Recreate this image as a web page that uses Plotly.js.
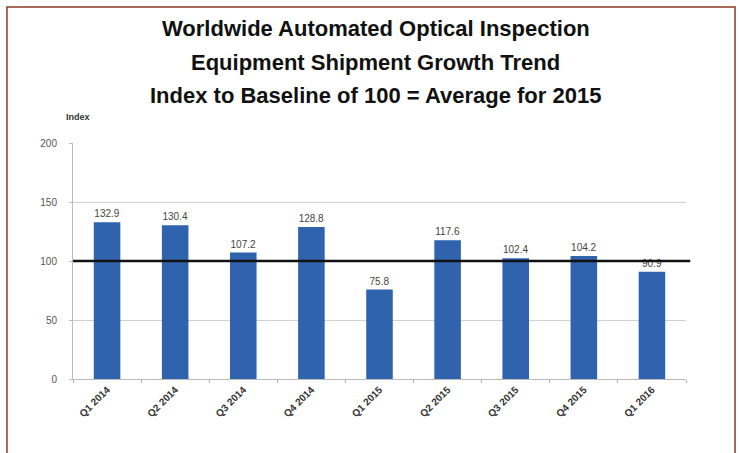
<!DOCTYPE html>
<html>
<head>
<meta charset="utf-8">
<script src="https://cdn.plot.ly/plotly-3.0.1.min.js"></script>
<style>html,body{margin:0;padding:0;background:#fff}#chart{width:740px;height:453px}</style>
</head>
<body>
<div id="chart"></div>
<script>
const quarters = ["Q1 2014","Q2 2014","Q3 2014","Q4 2014","Q1 2015","Q2 2015","Q3 2015","Q4 2015","Q1 2016"];
const indexValues = [132.9, 130.4, 107.2, 128.8, 75.8, 117.6, 102.4, 104.2, 90.9];
const baseline = 100;
const yTicks = [0, 50, 100, 150, 200];
const titleLines = ["Worldwide Automated Optical Inspection","Equipment Shipment Growth Trend","Index to Baseline of 100 = Average for 2015"];

const trace = {
  type: 'bar',
  x: quarters,
  y: indexValues,
  marker: {color: '#2f63ae'},
  text: indexValues.map(v => v.toFixed(1)),
  textposition: 'outside',
  textfont: {family: 'Liberation Sans, Arial, sans-serif', size: 10, color: '#444'},
  cliponaxis: false,
  hoverinfo: 'skip'
};

const titleY = [1.487, 1.343, 1.203];
const titleAnnotations = titleLines.map((t, i) => ({
  text: '<b>' + t + '</b>', xref: 'paper', yref: 'paper', x: 0.494, y: titleY[i],
  xanchor: 'center', yanchor: 'middle', showarrow: false,
  font: {family: 'Liberation Sans, Arial, sans-serif', size: 22, color: '#111'}
}));

const layout = {
  width: 740, height: 453,
  paper_bgcolor: '#fff', plot_bgcolor: '#fff',
  margin: {l: 73, r: 54, t: 143, b: 74},
  bargap: 0.61,
  showlegend: false,
  xaxis: {
    type: 'category',
    tickangle: -45,
    tickfont: {family: 'Liberation Sans, Arial, sans-serif', size: 10, color: '#333', weight: 'bold'},
    ticks: 'outside', tickson: 'boundaries', ticklen: 3, tickcolor: '#aaa',
    showline: true, linecolor: '#bbb', linewidth: 1,
    showgrid: false, fixedrange: true
  },
  yaxis: {
    range: [0, 200],
    tickvals: yTicks,
    tickfont: {family: 'Liberation Sans, Arial, sans-serif', size: 10, color: '#555'},
    ticklabelstandoff: 10,
    showgrid: true, gridcolor: '#cfcfcf', gridwidth: 1,
    showline: true, linecolor: '#bbb', linewidth: 1,
    ticks: 'outside', ticklen: 3, tickcolor: '#bbb',
    zeroline: false, fixedrange: true
  },
  shapes: [
    {type: 'line', xref: 'paper', yref: 'y', x0: 0, x1: 1.007, y0: baseline, y1: baseline,
     line: {color: '#111', width: 2.5}},
    {type: 'rect', xref: 'paper', yref: 'paper', x0: -0.1077, x1: 1.08, y0: -0.4, y1: 1.576,
     line: {color: '#8b3a26', width: 1.5}, fillcolor: 'rgba(0,0,0,0)', layer: 'below'}
  ],
  annotations: titleAnnotations.concat([
    {text: '<b>Index</b>', xref: 'paper', yref: 'paper', x: 0.008, y: 1.11, xanchor: 'center', yanchor: 'middle',
     showarrow: false, font: {family: 'Liberation Sans, Arial, sans-serif', size: 9, color: '#333'}}
  ])
};

Plotly.newPlot('chart', [trace], layout, {displayModeBar: false, staticPlot: true});
</script>
</body>
</html>
